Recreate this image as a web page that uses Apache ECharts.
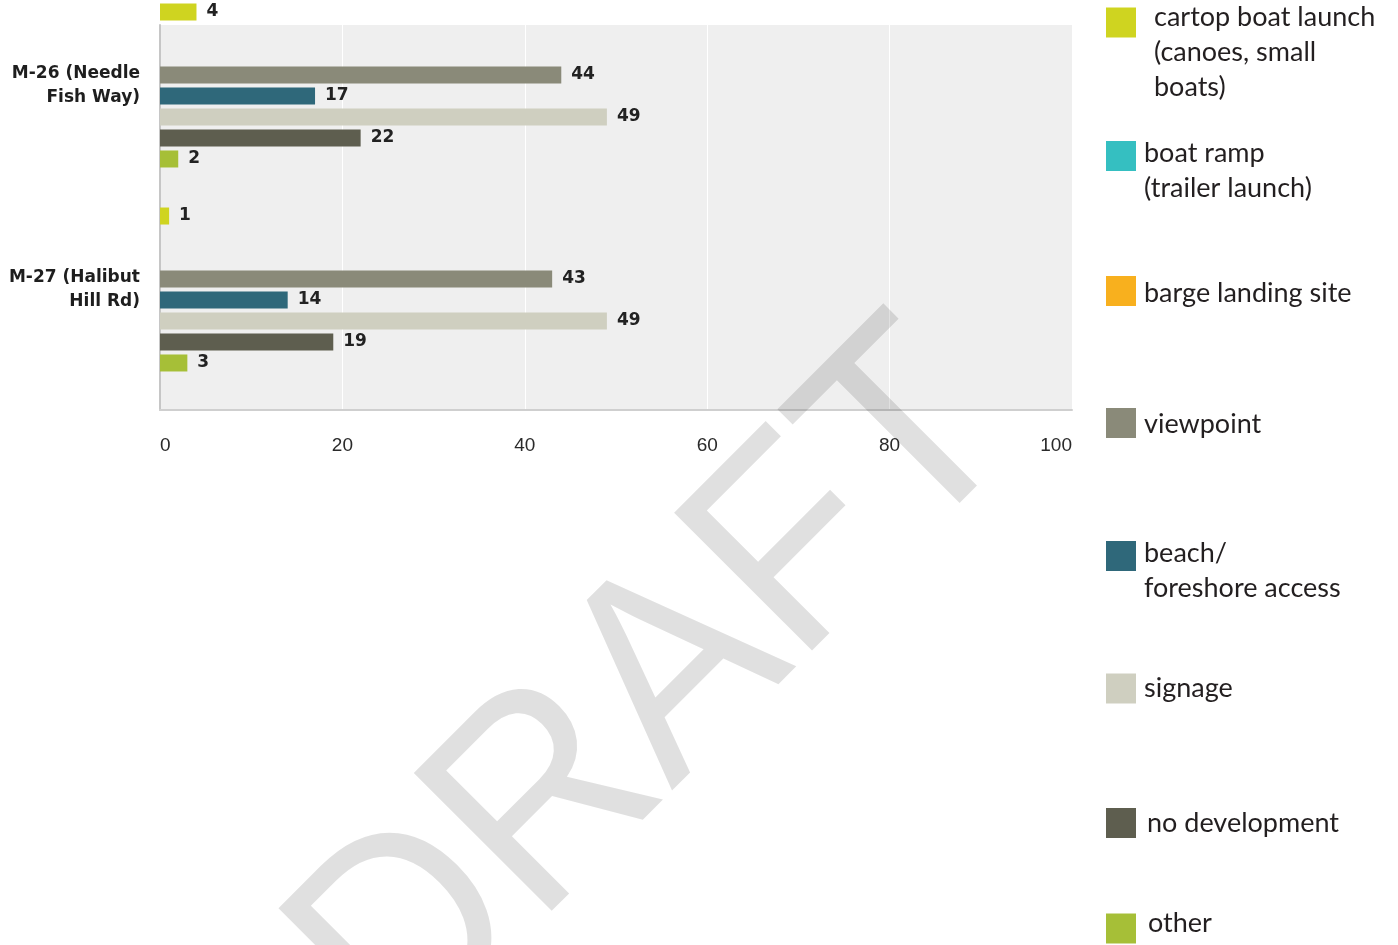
<!DOCTYPE html>
<html>
<head>
<meta charset="utf-8">
<script src="https://cdn.jsdelivr.net/npm/echarts@6/dist/echarts.min.js"></script>
<style>
html,body{margin:0;padding:0;background:#fff;}
#chart{width:1398px;height:945px;}
</style>
</head>
<body>
<div id="chart"></div>
<script>
// ---- data ----
var categories = ['M-26 (Needle\nFish Way)', 'M-27 (Halibut\nHill Rd)'];
var seriesNames = [
  'cartop boat launch\n(canoes, small\nboats)',
  'boat ramp\n(trailer launch)',
  'barge landing site',
  'viewpoint',
  'beach/\nforeshore access',
  'signage',
  'no development',
  'other'
];
var cartopValues = [4, 1];
var boatRampValues = [0, 0];
var bargeValues = [0, 0];
var viewpointValues = [44, 43];
var beachValues = [17, 14];
var signageValues = [49, 49];
var noDevValues = [22, 19];
var otherValues = [2, 3];
var xTicks = [0, 20, 40, 60, 80, 100];

// ---- styles ----
var colors = ['#cfd420', '#35bfc1', '#f8b01e', '#8a8a79', '#2f687a', '#cfcfc0', '#5e5e4f', '#a6bf37'];
var valueLists = [cartopValues, boatRampValues, bargeValues, viewpointValues, beachValues, signageValues, noDevValues, otherValues];

// legend placement: [iconCenterY, firstLineCenterY, textPadLeft]
var legendLayout = [
  [22, 17, 13],
  [155.5, 153, 3],
  [290.5, 293, 3],
  [422.5, 424, 3],
  [555.5, 553, 3],
  [688, 688, 3],
  [822.5, 823, 6],
  [928, 923, 7]
];
var LH = 35;

var chart = echarts.init(document.getElementById('chart'), null, {renderer: 'canvas'});

var series = seriesNames.map(function (name, i) {
  return {
    name: name,
    type: 'bar',
    xAxisIndex: 1,
    yAxisIndex: 1,
    data: valueLists[i],
    barWidth: 17,
    barGap: '23.5%',
    itemStyle: {color: colors[i]},
    label: {
      show: true,
      position: 'right',
      distance: 10,
      fontFamily: 'DejaVu Sans, sans-serif',
      fontWeight: 'bold',
      fontSize: 17,
      color: '#222',
      formatter: function (p) { return p.value ? String(p.value) : ''; }
    },
    emphasis: {disabled: true}
  };
});

var legends = seriesNames.map(function (name, i) {
  var L = legendLayout[i];
  var n = name.split('\n').length;
  var c = L[0];
  // first line center when block centred on icon: c - n*LH/2 + LH/2
  var shift = L[1] - (c - n * LH / 2 + LH / 2);
  var base = 2;
  var spTop = base + (shift > 0 ? 2 * shift : 0);
  var spBot = base + (shift < 0 ? -2 * shift : 0);
  var H = n * LH + spTop + spBot;
  var dist = Math.max(15, H / 2 - spTop / 2);
  var rich = {
    t: {fontFamily: 'Lato, sans-serif', fontSize: 27, color: '#231f20', lineHeight: LH},
    a: {fontSize: 1, lineHeight: spTop},
    b: {fontSize: 1, lineHeight: spBot}
  };
  return {
    left: 1106,
    top: c - dist,
    orient: 'vertical',
    padding: 0,
    itemWidth: 30,
    itemHeight: 30,
    icon: 'rect',
    selectedMode: false,
    data: [name],
    formatter: function (nm) {
      var parts = nm.split('\n').map(function (s) { return '{t|' + s + '}'; });
      parts.unshift('{a| }');
      parts.push('{b| }');
      return parts.join('\n');
    },
    textStyle: {
      fontFamily: 'Lato, sans-serif',
      fontSize: 27,
      color: '#231f20',
      padding: [0, 0, 0, L[2]],
      rich: rich
    }
  };
});

var option = {
  animation: false,
  backgroundColor: '#ffffff',
  grid: [
    {left: 160, right: 326, top: 25, height: 385, show: true, backgroundColor: '#efefef', borderWidth: 0, outerBoundsMode: 'none', containLabel: false},
    {left: 160, right: 326, top: -16.5, height: 408, show: false, outerBoundsMode: 'none', containLabel: false}
  ],
  xAxis: [
    {
      gridIndex: 0, type: 'value', min: xTicks[0], max: xTicks[xTicks.length - 1], interval: xTicks[1] - xTicks[0],
      axisLine: {show: true, lineStyle: {color: '#cfcfcf', width: 2}},
      axisTick: {show: false},
      splitLine: {show: true, lineStyle: {color: '#ffffff', width: 1}},
      axisLabel: {
        margin: 26, color: '#2a2a2a', fontSize: 19, fontFamily: 'Liberation Sans, Arial, sans-serif',
        alignMinLabel: 'left', alignMaxLabel: 'right'
      }
    },
    {
      gridIndex: 1, type: 'value', min: xTicks[0], max: xTicks[xTicks.length - 1], show: false
    }
  ],
  yAxis: [
    {
      gridIndex: 0, type: 'category', data: categories,
      axisLine: {show: true, lineStyle: {color: '#c6c6c6', width: 2}},
      axisTick: {show: false}, axisLabel: {show: false}, splitLine: {show: false}
    },
    {
      gridIndex: 1, type: 'category', data: categories, inverse: true,
      axisLine: {show: false}, axisTick: {show: false}, splitLine: {show: false},
      axisLabel: {
        margin: 20, color: '#1e1e1e', fontSize: 17, fontWeight: 'bold', lineHeight: 24,
        fontFamily: 'DejaVu Sans, sans-serif', align: 'right'
      }
    }
  ],
  legend: legends,
  series: series,
  graphic: [
    {
      type: 'text',
      x: 658, y: 694,
      rotation: Math.PI / 4,
      scaleY: 1.07,
      z: 100,
      silent: true,
      style: {
        text: 'DRAFT',
        fontFamily: 'Liberation Sans, Arial, sans-serif',
        fontSize: 265,
        fill: 'rgba(0,0,0,0.12)',
        align: 'center',
        verticalAlign: 'middle'
      }
    }
  ]
};
chart.setOption(option);
</script>
</body>
</html>
